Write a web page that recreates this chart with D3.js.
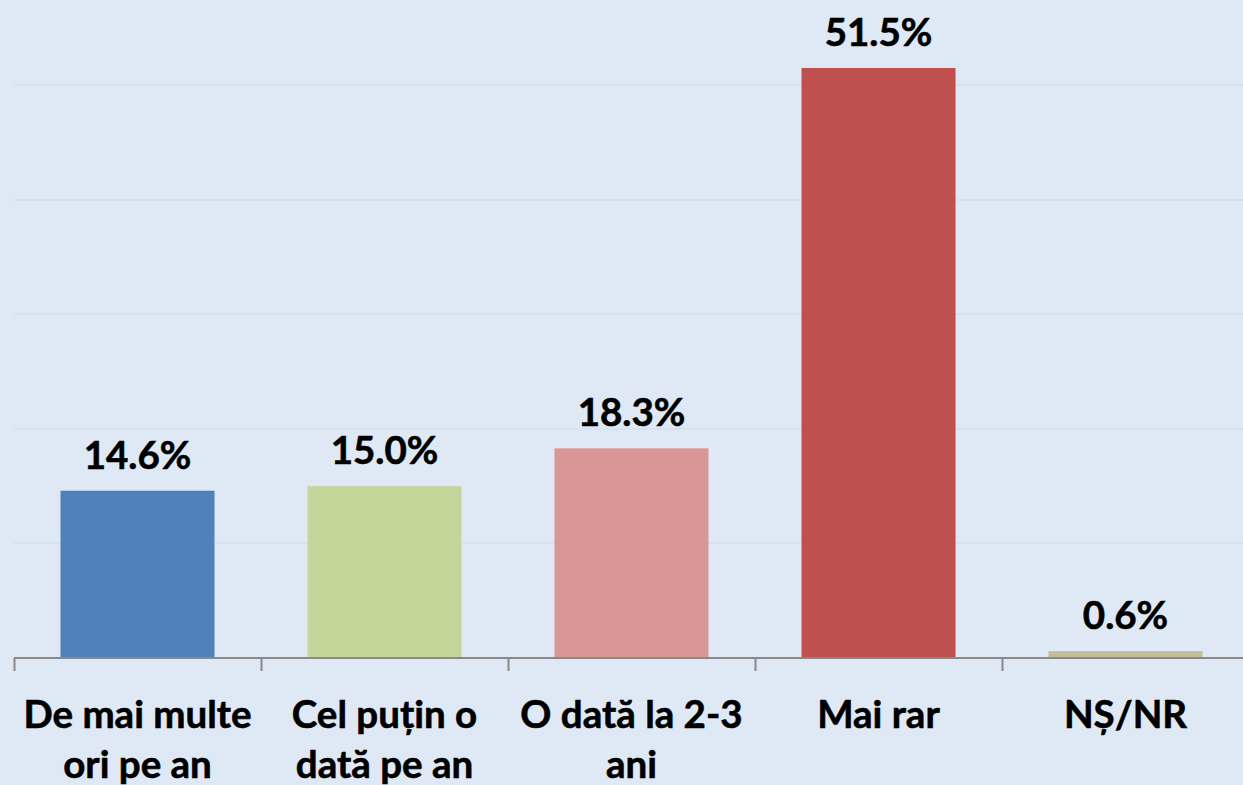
<!DOCTYPE html>
<html>
<head>
<meta charset="utf-8">
<script src="https://cdn.jsdelivr.net/npm/d3@7"></script>
<style>
  html, body { margin: 0; padding: 0; background: #dee9f5; overflow: hidden; }
  svg { display: block; }
  text { font-family: Lato, "Open Sans", sans-serif; font-weight: 700; fill: #000; stroke: #000; stroke-width: 0.6px; }
</style>
</head>
<body>
<svg id="chart" width="1243" height="785"></svg>
<script>
const categories = ["De mai multe ori pe an", "Cel puțin o dată pe an", "O dată la 2-3 ani", "Mai rar", "NȘ/NR"];
const values = [14.6, 15.0, 18.3, 51.5, 0.6];
const colors = ["#4f81bd", "#c4d79b", "#d99694", "#c0504d", "#c4bd97"];
const gridTicks = [10, 20, 30, 40, 50];

const W = 1243, H = 785;
const svg = d3.select("#chart");
svg.append("rect").attr("width", W).attr("height", H).attr("fill", "#dee9f5");

const x = d3.scaleBand().domain(categories).range([14, 1249])
  .paddingInner(0.3765).paddingOuter(0.18825);
const y = d3.scaleLinear().domain([0, 60]).range([658, 658 - 687.4]);

// gridlines
svg.append("g").selectAll("line").data(gridTicks).join("line")
  .attr("x1", 14).attr("x2", W)
  .attr("y1", d => Math.round(y(d))).attr("y2", d => Math.round(y(d)))
  .attr("stroke", "#d6e2ef").attr("stroke-width", 2);

// bars
svg.append("g").selectAll("rect").data(values).join("rect")
  .attr("x", (d, i) => x(categories[i]))
  .attr("width", x.bandwidth())
  .attr("y", d => y(d))
  .attr("height", d => y(0) - y(d))
  .attr("fill", (d, i) => colors[i]);

// axis
const step = x.step();
const axis = svg.append("g");
axis.append("line").attr("x1", 14).attr("x2", W).attr("y1", 658).attr("y2", 658)
  .attr("stroke", "#898989").attr("stroke-width", 2);
const tickPos = categories.map(c => x(c) - step * x.paddingInner() / 2);
tickPos.push(x(categories[categories.length - 1]) + x.bandwidth() + step * x.paddingInner() / 2);
axis.selectAll("line.tick").data(tickPos).join("line").attr("class", "tick")
  .attr("x1", d => Math.round(d) + 0.5).attr("x2", d => Math.round(d) + 0.5)
  .attr("y1", 658).attr("y2", 671)
  .attr("stroke", "#898989").attr("stroke-width", 2);

// value labels
svg.append("g").selectAll("text").data(values).join("text")
  .attr("x", (d, i) => x(categories[i]) + x.bandwidth() / 2)
  .attr("y", d => y(d) - 22)
  .attr("text-anchor", "middle")
  .attr("font-size", 38.5)
  .text(d => d.toFixed(1) + "%");

// category labels with wrapping
const maxW = 245;
const lab = svg.append("g");
categories.forEach(c => {
  const cx = x(c) + x.bandwidth() / 2;
  const t = lab.append("text").attr("x", cx).attr("y", 728)
    .attr("text-anchor", "middle").attr("font-size", 38.5);
  const words = c.split(" ");
  let line = [];
  let ts = t.append("tspan").attr("x", cx).attr("dy", 0);
  words.forEach(w => {
    line.push(w);
    ts.text(line.join(" "));
    if (ts.node().getComputedTextLength() > maxW && line.length > 1) {
      line.pop();
      ts.text(line.join(" "));
      line = [w];
      ts = t.append("tspan").attr("x", cx).attr("dy", 50).text(w);
    }
  });
});
</script>
</body>
</html>
